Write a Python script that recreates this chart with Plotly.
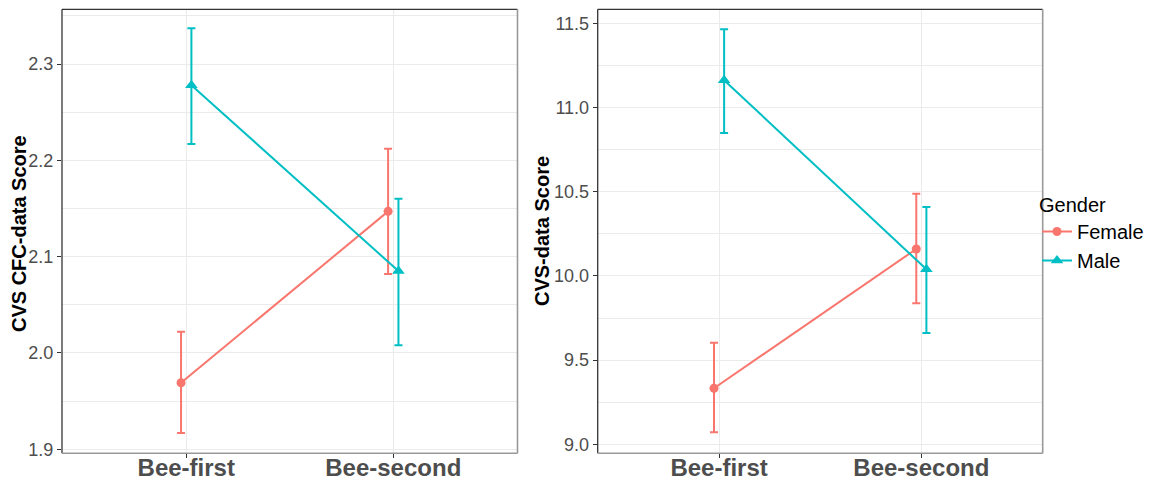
import plotly.graph_objects as go

categories = ["Bee-first", "Bee-second"]
genders = ["Female", "Male"]

# Left panel: CVS CFC-data Score
cfc_female_mean = [1.969, 2.147]
cfc_female_hi = [2.022, 2.212]
cfc_female_lo = [1.917, 2.082]
cfc_male_mean = [2.278, 2.085]
cfc_male_hi = [2.337, 2.160]
cfc_male_lo = [2.217, 2.008]

# Right panel: CVS-data Score
cvs_female_mean = [9.333, 10.160]
cvs_female_hi = [9.603, 10.488]
cvs_female_lo = [9.071, 9.837]
cvs_male_mean = [11.162, 10.039]
cvs_male_hi = [11.464, 10.409]
cvs_male_lo = [10.849, 9.661]

colors = {"Female": "#F8766D", "Male": "#00BFC4"}
symbols = {"Female": "circle", "Male": "triangle-up"}
msize = {"Female": 9, "Male": 11}
dodge = {"Female": -0.025, "Male": 0.025}
FONT = "Liberation Sans, Arial, sans-serif"

W, H = 1161, 482
fig = go.Figure()

panels = [
    ("x", "y", {"Female": (cfc_female_mean, cfc_female_hi, cfc_female_lo),
                "Male": (cfc_male_mean, cfc_male_hi, cfc_male_lo)}, True),
    ("x2", "y2", {"Female": (cvs_female_mean, cvs_female_hi, cvs_female_lo),
                  "Male": (cvs_male_mean, cvs_male_hi, cvs_male_lo)}, False),
]

for xa, ya, data, showleg in panels:
    for g in genders:
        m, hi, lo = data[g]
        xs = [i + 1 + dodge[g] for i in range(len(categories))]
        fig.add_trace(go.Scatter(
            x=xs, y=m, mode="lines+markers", name=g,
            showlegend=showleg, xaxis=xa, yaxis=ya,
            line=dict(color=colors[g], width=2),
            marker=dict(symbol=symbols[g], size=msize[g], color=colors[g]),
            error_y=dict(type="data", symmetric=False,
                         array=[h - v for h, v in zip(hi, m)],
                         arrayminus=[v - l for v, l in zip(m, lo)],
                         color=colors[g], thickness=2, width=4),
        ))

def px_x(p):
    return p / W

def px_y(p):
    return 1 - p / H

top, bottom = 9.3, 453.3
ydom = [px_y(bottom), px_y(top)]

axis_common = dict(
    showgrid=True, gridcolor="#ebebeb", gridwidth=1.1,
    zeroline=False, showline=False, automargin=False,
    ticks="outside", ticklen=4, tickcolor="#333333", tickwidth=1,
)
xtickfont = dict(size=24, color="#4d4d4d", family=FONT, weight="bold")
ytickfont = dict(size=18, color="#4d4d4d", family=FONT)

fig.update_layout(
    width=W, height=H,
    margin=dict(l=0, r=0, t=0, b=0),
    paper_bgcolor="white", plot_bgcolor="white",
    font=dict(family=FONT, color="#000000"),
    xaxis=dict(domain=[px_x(62), px_x(517.5)], range=[0.4, 2.6],
               tickvals=[1, 2], ticktext=categories, anchor="y",
               tickfont=xtickfont, ticklabelstandoff=-11, **axis_common),
    yaxis=dict(domain=ydom, range=[1.8958, 2.3568], anchor="x",
               tickvals=[1.9, 2.0, 2.1, 2.2, 2.3], tickformat=".1f",
               tickfont=ytickfont,
               minor=dict(dtick=0.05, tick0=1.9, showgrid=True, gridcolor="#ebebeb", gridwidth=0.7, ticks=""),
               **axis_common),
    xaxis2=dict(domain=[px_x(597.7), px_x(1042.7)], range=[0.4, 2.6],
                tickvals=[1, 2], ticktext=categories, anchor="y2",
                tickfont=xtickfont, ticklabelstandoff=-11, **axis_common),
    yaxis2=dict(domain=ydom, range=[8.9466, 11.583], anchor="x2",
                tickvals=[9.0, 9.5, 10.0, 10.5, 11.0, 11.5], tickformat=".1f",
                tickfont=ytickfont,
                minor=dict(dtick=0.25, tick0=9.0, showgrid=True, gridcolor="#ebebeb", gridwidth=0.7, ticks=""),
                **axis_common),
    legend=dict(x=px_x(1037), y=px_y(233), xanchor="left", yanchor="middle",
                title=dict(text="Gender", font=dict(size=20, family=FONT, color="#000")),
                font=dict(size=20, family=FONT, color="#000"),
                tracegroupgap=0, itemwidth=30, bgcolor="rgba(0,0,0,0)"),
    showlegend=True,
)

# panel borders
for xr, yr in [("x domain", "y domain"), ("x2 domain", "y2 domain")]:
    fig.add_shape(type="line", xref=xr, yref=yr, x0=0, x1=1, y0=1, y1=1, line=dict(color="#333333", width=1.3))
    fig.add_shape(type="line", xref=xr, yref=yr, x0=0, x1=0, y0=0, y1=1, line=dict(color="#333333", width=1.3))
    fig.add_shape(type="line", xref=xr, yref=yr, x0=1, x1=1, y0=0, y1=1, line=dict(color="#999999", width=1.6))
    fig.add_shape(type="line", xref=xr, yref=yr, x0=0, x1=1, y0=0, y1=0, line=dict(color="#999999", width=1.6))

# axis titles
fig.add_annotation(text="<b>CVS CFC-data Score</b>", xref="paper", yref="paper",
                   x=px_x(19), y=px_y(234), xanchor="center", yanchor="middle",
                   textangle=-90, showarrow=False,
                   font=dict(size=20, family=FONT, color="#000"))
fig.add_annotation(text="<b>CVS-data Score</b>", xref="paper", yref="paper",
                   x=px_x(542), y=px_y(231), xanchor="center", yanchor="middle",
                   textangle=-90, showarrow=False,
                   font=dict(size=20, family=FONT, color="#000"))

fig.write_html("out.html", config={"displayModeBar": False},
               post_script="document.body.style.margin='0px';document.body.style.overflow='hidden';")
